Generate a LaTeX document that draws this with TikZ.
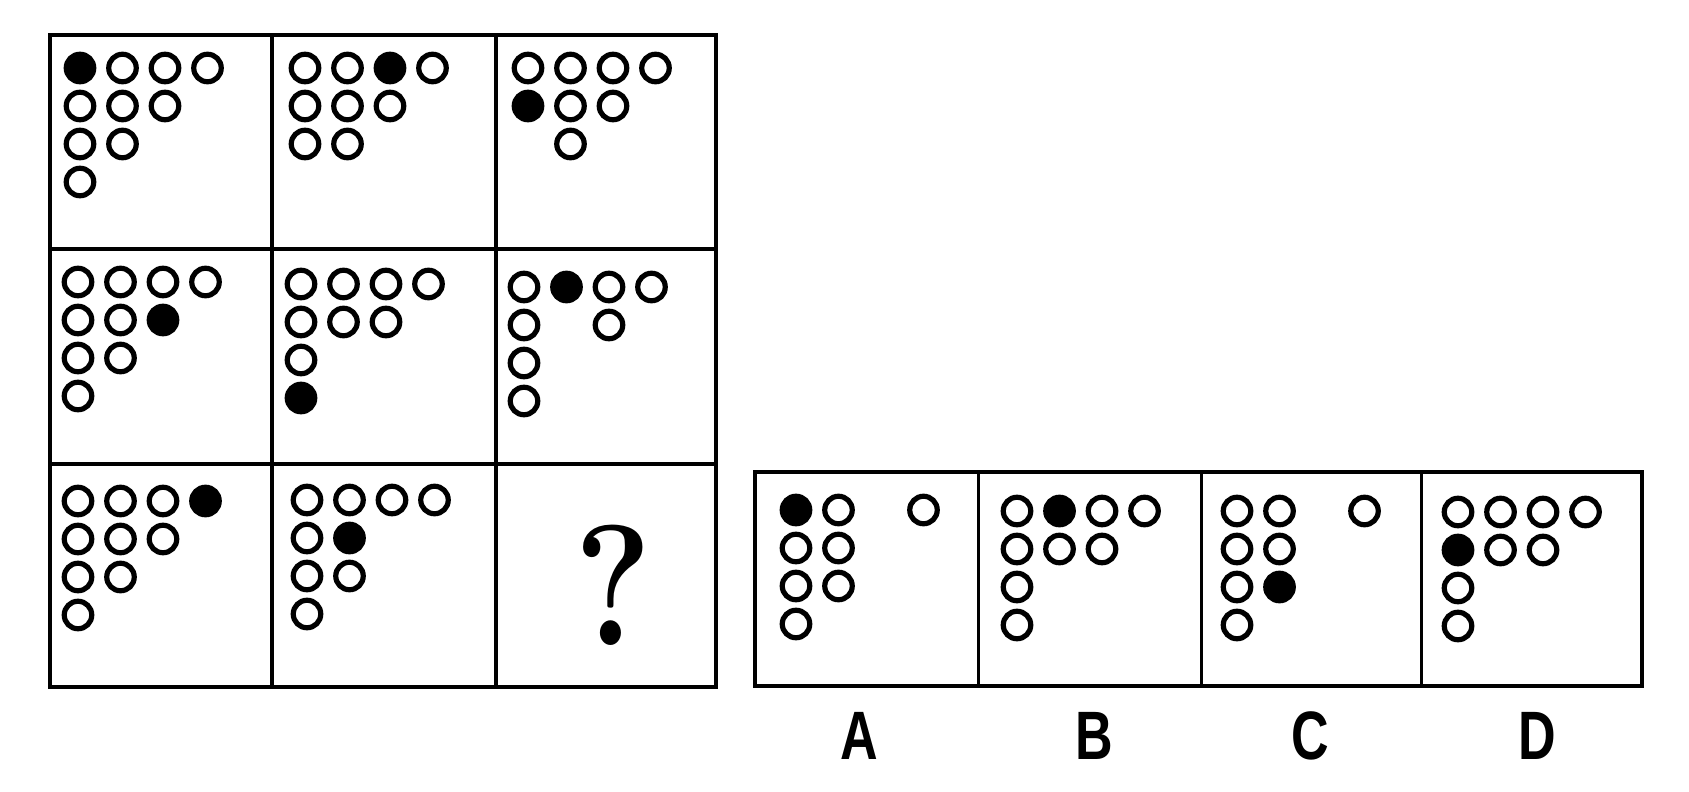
\documentclass[tikz,border=0pt]{standalone}
\usepackage{fontspec}
\newfontfamily\labelfont{Liberation Sans}
\tikzset{
    ring/.style = {circle, draw=black, line width=5.2pt, minimum size=27.5pt, inner sep=0pt},
    dot/.style = {ring, fill=black},
    frame/.style = {line width=3.6pt, draw=black},
    divider/.style = {line width=3.2pt, draw=black},
    thindiv/.style = {line width=3pt, draw=black},
    choice/.style = {font=\labelfont\bfseries\fontsize{68.5}{70}\selectfont, inner sep=0pt},
    ask/.style = {font=\bfseries\fontsize{172}{172}\selectfont, inner sep=0pt}
}
% name, x, y, open places, filled place
\newcommand{\Pat}[5]{%
  \foreach \c/\r in {#4} {\node[ring] (#1-\c\r) at ({#2+\c*42.5},{#3+\r*38}) {};}
  \foreach \c/\r in {#5} {\node[dot] (#1-\c\r) at ({#2+\c*42.5},{#3+\r*38}) {};}
}
\newcommand{\Sq}[2]{\scalebox{#1}[1]{#2}}

\begin{document}
\begin{tikzpicture}[x=1pt,y=-1pt]
\useasboundingbox (0,0) rectangle (1689,792);
% puzzle grid
\draw[frame] (50,35) rectangle (716,687);
\draw[divider] (272,35) -- (272,687);
\draw[divider] (496,35) -- (496,687);
\draw[divider] (50,249) -- (716,249);
\draw[divider] (50,464) -- (716,464);
%
\Pat{p11}{80}{68}{1/0,2/0,3/0,0/1,1/1,2/1,0/2,1/2,0/3}{0/0}
\Pat{p12}{305}{68}{0/0,1/0,3/0,0/1,1/1,2/1,0/2,1/2}{2/0}
\Pat{p13}{528}{68}{0/0,1/0,2/0,3/0,1/1,2/1,1/2}{0/1}
\Pat{p21}{78}{282}{0/0,1/0,2/0,3/0,0/1,1/1,0/2,1/2,0/3}{2/1}
\Pat{p22}{301}{284}{0/0,1/0,2/0,3/0,0/1,1/1,2/1,0/2}{0/3}
\Pat{p23}{524}{287}{0/0,2/0,3/0,0/1,2/1,0/2,0/3}{1/0}
\Pat{p31}{78}{501}{0/0,1/0,2/0,0/1,1/1,2/1,0/2,1/2,0/3}{3/0}
\Pat{p32}{307}{500}{0/0,1/0,2/0,3/0,0/1,0/2,1/2,0/3}{1/1}
\node[ask] (q) at (613,585) {\Sq{0.85}{?}};
% answer row
\draw[frame] (755,472) rectangle (1642,686);
\draw[thindiv] (978,472) -- (978,686);
\draw[thindiv] (1201,472) -- (1201,686);
\draw[thindiv] (1421,472) -- (1421,686);
%
\Pat{oA}{796}{510}{1/0,3/0,0/1,1/1,0/2,1/2,0/3}{0/0}
\Pat{oB}{1017}{511}{0/0,2/0,3/0,0/1,1/1,2/1,0/2,0/3}{1/0}
\Pat{oC}{1237}{511}{0/0,1/0,3/0,0/1,1/1,0/2,0/3}{1/2}
\Pat{oD}{1458}{512}{0/0,1/0,2/0,3/0,1/1,2/1,0/2,0/3}{0/1}
%
\node[choice] (lA) at (859,736) {\Sq{0.76}{A}};
\node[choice] (lB) at (1094,736) {\Sq{0.76}{B}};
\node[choice] (lC) at (1310,736) {\Sq{0.76}{C}};
\node[choice] (lD) at (1537,736) {\Sq{0.76}{D}};
\end{tikzpicture}
\end{document}
